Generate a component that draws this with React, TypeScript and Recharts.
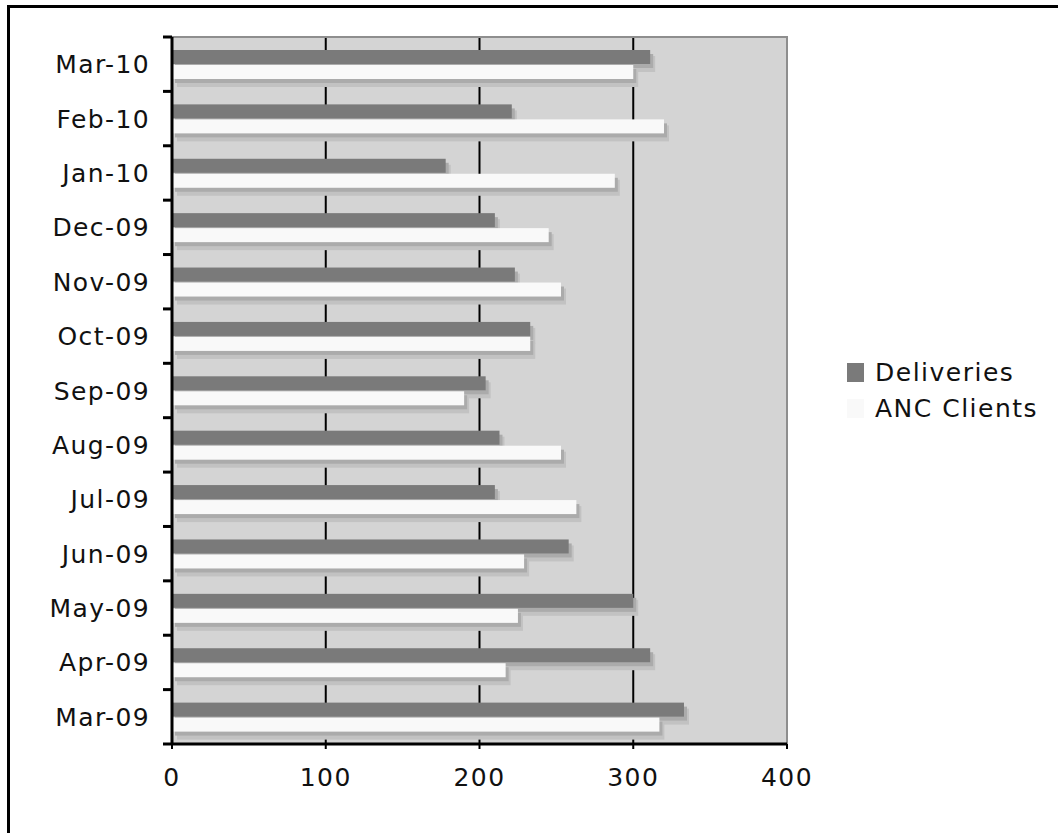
import React from 'react';
import {
  BarChart,
  Bar,
  XAxis,
  YAxis,
  CartesianGrid,
  ReferenceArea,
} from 'recharts';

// categories, top to bottom as drawn
const months = ['Mar-10', 'Feb-10', 'Jan-10', 'Dec-09', 'Nov-09', 'Oct-09', 'Sep-09', 'Aug-09', 'Jul-09', 'Jun-09', 'May-09', 'Apr-09', 'Mar-09'];
const deliveries = [311, 221, 178, 210, 223, 233, 204, 213, 210, 258, 300, 311, 333];
const ancClients = [300, 320, 288, 245, 253, 233, 190, 253, 263, 229, 225, 217, 317];
const xTicks = [0, 100, 200, 300, 400];

const seriesInfo = [
  { key: 'deliveries', name: 'Deliveries', color: '#7a7a7a' },
  { key: 'anc', name: 'ANC Clients', color: '#f9f9f9' },
];

const data = months.map((m, i) => ({ month: m, deliveries: deliveries[i], anc: ancClients[i] }));

const W = 1058;
const H = 833;
const PLOT_TOP = 37;
const PLOT_LEFT = 172;
const PLOT_RIGHT = 787;
const PLOT_BOTTOM = 744;
const X_AXIS_H = 60;
const BAND = (PLOT_BOTTOM - PLOT_TOP) / months.length;
const FONT = '"DejaVu Sans", Verdana, sans-serif';

const ShadowBar = (props: any) => {
  const { x, y, width, height, fill } = props;
  if (!width || width <= 0) return null;
  return (
    <g>
      <rect x={x + 5} y={y + 6} width={width} height={height + 2} fill="#c2c2c2" />
      <rect x={x + 3} y={y + 4} width={width} height={height} fill="#ababab" />
      <rect x={x} y={y} width={width} height={height} fill={fill} />
    </g>
  );
};

const YTick = (props: any) => {
  const { y, payload, index } = props;
  return (
    <g>
      <text
        x={PLOT_LEFT - 22}
        y={y}
        dy="0.36em"
        textAnchor="end"
        fill="#111"
        fontSize={25}
        letterSpacing={1.4}
        fontFamily={FONT}
      >
        {payload.value}
      </text>
      {index === 0 && (
        <line x1={PLOT_LEFT - 9} x2={PLOT_LEFT} y1={y - BAND / 2} y2={y - BAND / 2} stroke="#000" strokeWidth={3} />
      )}
      <line x1={PLOT_LEFT - 9} x2={PLOT_LEFT} y1={y + BAND / 2} y2={y + BAND / 2} stroke="#000" strokeWidth={3} />
    </g>
  );
};

const LegendBox = () => (
  <div
    style={{
      position: 'absolute',
      left: 847,
      top: 354,
      fontFamily: FONT,
      fontSize: 25,
      letterSpacing: 1.5,
      color: '#111',
    }}
  >
    {seriesInfo.map((s) => (
      <div key={s.key} style={{ display: 'flex', alignItems: 'center', height: 36 }}>
        <span style={{ display: 'inline-block', width: 17, height: 19, background: s.color, marginRight: 11 }} />
        <span>{s.name}</span>
      </div>
    ))}
  </div>
);

export default function App() {
  return (
    <div style={{ position: 'absolute', left: 0, top: 0, width: W, height: H, background: '#fff', overflow: 'hidden' }}>
      <div
        style={{
          position: 'absolute',
          left: 7,
          top: 5,
          width: W,
          height: H,
          borderLeft: '3px solid #000',
          borderTop: '3px solid #000',
        }}
      />
      <div style={{ position: 'absolute', left: 0, top: 0 }}>
        <BarChart
          width={W}
          height={H}
          data={data}
          layout="vertical"
          margin={{ top: PLOT_TOP, right: W - PLOT_RIGHT, bottom: H - PLOT_BOTTOM - X_AXIS_H, left: PLOT_LEFT - 160 }}
          barSize={14}
          barGap={1}
        >
          <CartesianGrid horizontal={false} stroke="#000" strokeWidth={2} fill="#d4d4d4" fillOpacity={1} />
          <XAxis
            type="number"
            domain={[0, 400]}
            ticks={xTicks}
            height={X_AXIS_H}
            axisLine={{ stroke: '#000', strokeWidth: 3 }}
            tickLine={{ stroke: '#000', strokeWidth: 2 }}
            tickSize={5}
            tickMargin={19}
            tick={{ fill: '#111', fontSize: 25, fontFamily: FONT, letterSpacing: 1.4 }}
          />
          <YAxis
            type="category"
            dataKey="month"
            width={160}
            interval={0}
            axisLine={{ stroke: '#000', strokeWidth: 3 }}
            tickLine={false}
            tick={<YTick />}
          />
          <ReferenceArea x1={0} x2={400} fill="none" stroke="#8e8e8e" strokeWidth={2} />
          {seriesInfo.map((s) => (
            <Bar
              key={s.key}
              dataKey={s.key}
              name={s.name}
              fill={s.color}
              shape={<ShadowBar />}
              isAnimationActive={false}
            />
          ))}
        </BarChart>
      </div>
      <LegendBox />
    </div>
  );
}
